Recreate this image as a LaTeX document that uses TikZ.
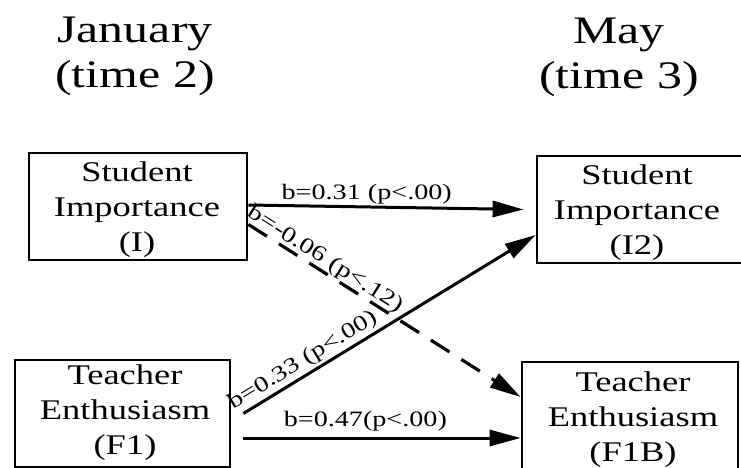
\documentclass[tikz,border=0pt]{standalone}
\usepackage{fontspec}
\setmainfont[FakeStretch=1.28]{Liberation Serif}
\usetikzlibrary{arrows.meta}
\begin{document}
\begin{tikzpicture}[x=1pt,y=-1pt,
  varbox/.style={draw, line width=2.8pt, rectangle, inner sep=0pt},
  boxtext/.style={align=center, inner sep=0pt, font=\fontsize{28.5}{35}\selectfont},
  heading/.style={align=center, inner sep=0pt, font=\fontsize{39}{45}\selectfont},
  path/.style={line width=3pt, -{Triangle[length=31pt,width=16pt]}},
  coef/.style={font=\fontsize{22}{24}\selectfont, inner sep=0pt}]
\useasboundingbox (0,0) rectangle (741,468);
\clip (0,0) rectangle (741,468);

% column headings
\node[heading] (jan) at (135,56) {January\\(time 2)};
\node[heading] (may) at (619,57) {May\\(time 3)};

% measured variables: frames
\node[varbox, minimum width=218pt, minimum height=107pt] (si1) at (138,206.5) {};
\node[varbox, minimum width=215pt, minimum height=107pt] (te1) at (122.5,413.5) {};
\node[varbox, minimum width=208pt, minimum height=107pt] (si2) at (641,209.5) {};
\node[varbox, minimum width=216pt, minimum height=113pt] (te2) at (630,418.5) {};

% measured variables: names
\node[boxtext] (si1t) at (137,210) {Student\\Importance\\(I)};
\node[boxtext] (te1t) at (125,413) {Teacher\\Enthusiasm\\(F1)};
\node[boxtext] (si2t) at (637,213) {Student\\Importance\\(I2)};
\node[boxtext] (te2t) at (633,420) {Teacher\\Enthusiasm\\(F1B)};

% path coefficients
\draw[path] ([yshift=1.5pt]si1.east) -- node[coef, above=1pt, pos=0.43] {b=0.31 (p<.00)}
  ([xshift=-12pt]si2.west);
\draw[path, dash pattern=on 22pt off 14pt, line width=3.2pt] ([yshift=-18pt]si1.east) --
  node[coef, above, sloped, pos=0.26] {b=-0.06 (p<.12)} ([yshift=21.5pt]te2.west);
\draw[path] ([xshift=12pt]te1.east) --
  node[coef, above=2pt, sloped, pos=0.23] {b=0.33 (p<.00)} ([yshift=-25.5pt]si2.west);
\draw[path] ([xshift=12pt,yshift=-24.5pt]te1.east) --
  node[coef, above=5pt, pos=0.44] {b=0.47(p<.00)} ([yshift=-19.5pt]te2.west);
\end{tikzpicture}
\end{document}
